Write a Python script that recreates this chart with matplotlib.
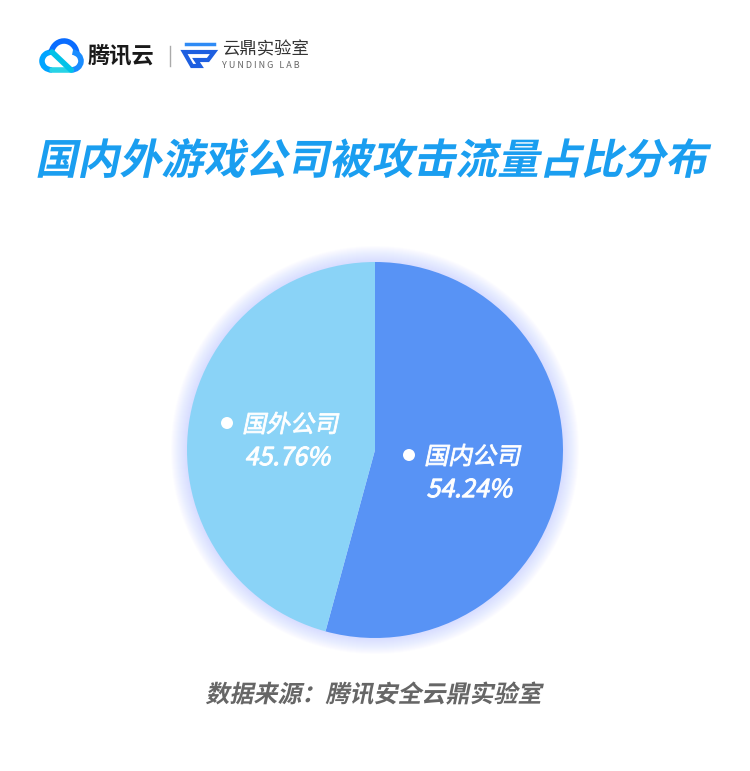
import matplotlib
matplotlib.use("Agg")
import matplotlib.pyplot as plt
from matplotlib.textpath import TextPath
from matplotlib.font_manager import FontProperties
from matplotlib.patches import PathPatch, Circle, Arc, Polygon
from matplotlib.transforms import Affine2D

plt.rcParams['font.family'] = ['Noto Sans CJK SC', 'DejaVu Sans']

# data
categories = ['国内公司', '国外公司']
shares = [54.24, 45.76]
colors = ['#5893F5', '#8AD3F7']
title = '国内外游戏公司被攻击流量占比分布'
source = '数据来源：腾讯安全云鼎实验室'

W, H = 750, 771
fig = plt.figure(figsize=(W / 100, H / 100), dpi=100)
ax = fig.add_axes([0, 0, 1, 1])
ax.set_xlim(0, W)
ax.set_ylim(0, H)
ax.axis('off')


def Y(y):
    # image row -> axes y
    return H - y


def slanted(x, y, s, size, color, ha='left', weight='bold', skew=12, stroke=0):
    fp = FontProperties(family='Noto Sans CJK SC', weight=weight)
    tp = TextPath((0, 0), s, size=size, prop=fp)
    bb = tp.get_extents()
    dx = -(bb.x0 + bb.x1) / 2 if ha == 'center' else -bb.x0
    dy = -(bb.y0 + bb.y1) / 2
    tr = Affine2D().translate(dx, dy).skew_deg(skew, 0).translate(x, Y(y))
    ax.add_patch(PathPatch(tr.transform_path(tp), fc=color,
                           ec=color if stroke else 'none', lw=stroke, zorder=6))


# header logos
ax.add_patch(Arc((52, Y(61)), 20, 18, theta1=90, theta2=270, lw=4, color='#00A4FF'))
ax.add_patch(Arc((64, Y(55)), 26, 28, theta1=0, theta2=165, lw=4, color='#0A6CFF'))
ax.add_patch(Arc((71, Y(61)), 20, 18, theta1=-90, theta2=80, lw=4, color='#1A8CFF'))
ax.plot([52, 71], [Y(70), Y(70)], lw=4, color='#27D3E6', solid_capstyle='round')
ax.plot([52, 71], [Y(52), Y(70)], lw=4, color='#00C2E8', solid_capstyle='round')
ax.text(88, Y(56), '腾讯云', fontsize=16, fontweight='bold', color='#1a1a1a', va='center')
ax.plot([170, 170], [Y(46), Y(66)], lw=1, color='#aaaaaa')
ax.plot([186, 214], [Y(44), Y(44)], lw=2.5, color='#2F8BF5')
ax.add_patch(Polygon([(184, Y(52)), (214, Y(52)), (208, Y(60)), (196, Y(60)), (200, Y(66)),
                      (192, Y(66))], closed=True, fc='none', ec='#1E5FE0', lw=3))
ax.text(222, Y(49), '云鼎实验室', fontsize=12.5, color='#333333', va='center')
ax.text(222, Y(66), 'Y U N D I N G   L A B', fontsize=6.5, color='#666666', va='center')

# title
slanted(W / 2, 158, title, 42, '#1A9EF0', ha='center')

# glow behind pie
cx, cy, r = 375, 450, 188
for k in range(16, 0, -1):
    ax.add_patch(Circle((cx, Y(cy)), r + k, fc='#B4C2FF', ec='none', alpha=0.035, zorder=1))

wedges, _ = ax.pie(shares, colors=colors, startangle=90, counterclock=False,
                   center=(cx, Y(cy)), radius=r, frame=True,
                   wedgeprops=dict(linewidth=0, zorder=3))
ax.set_xlim(0, W)
ax.set_ylim(0, H)
ax.set_aspect('equal')
ax.axis('off')

# labels
label_pos = [(409, 455), (227, 423)]
for (lx, ly), name, val in zip(label_pos, categories, shares):
    ax.add_patch(Circle((lx, Y(ly)), 6, fc='white', ec='none', zorder=6))
    slanted(lx + 19, ly, name, 24, 'white', weight='regular', stroke=0.6)
    slanted(lx + 20, ly + 33, f'{val:.2f}%', 25, 'white', weight='regular', stroke=0.7)

# source
slanted(W / 2, 693, source, 24, '#666666', ha='center')

fig.savefig('out.png', dpi=100, facecolor='white')
